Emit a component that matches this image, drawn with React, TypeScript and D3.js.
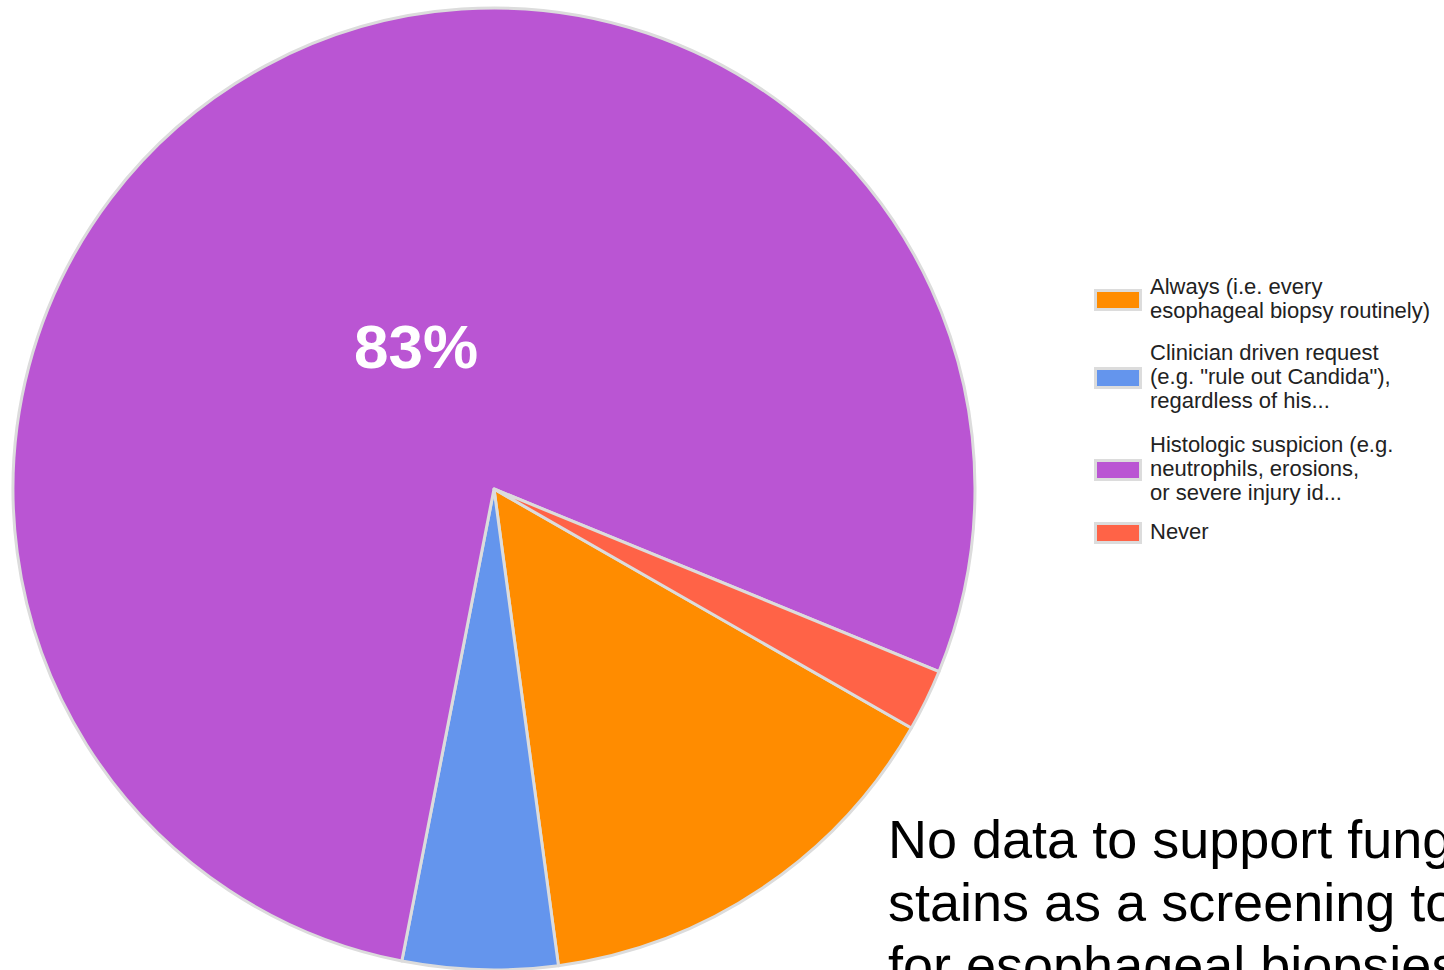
import React from "react";
import * as d3 from "d3";

const categories = [
  "Always (i.e. every esophageal biopsy routinely)",
  "Clinician driven request (e.g. \"rule out Candida\"), regardless of his...",
  "Histologic suspicion (e.g. neutrophils, erosions, or severe injury id...",
  "Never",
];
const legendLines = [
  ["Always (i.e. every", "esophageal biopsy routinely)"],
  ["Clinician driven request", "(e.g. \"rule out Candida\"),", "regardless of his..."],
  ["Histologic suspicion (e.g.", "neutrophils, erosions,", "or severe injury id..."],
  ["Never"],
];
const values = [14, 5, 75, 2];
const colors = ["#ff8c00", "#6495ed", "#ba55d3", "#ff6347"];
const bigLabel = "83%";
const noteLines = [
  "No data to support fungal",
  "stains as a screening tool",
  "for esophageal biopsies",
];

const W = 1444;
const H = 970;

export default function App() {
  const cx = 494;
  const cy = 489;
  const r = 481;
  const start = (119.8 * Math.PI) / 180;
  const pie = d3
    .pie<number>()
    .sort(null)
    .startAngle(start)
    .endAngle(start + 2 * Math.PI)
    .value((d) => d);
  const arcs = pie(values);
  const arc = d3.arc<d3.PieArcDatum<number>>().innerRadius(0).outerRadius(r);

  const lineH = 24;
  const legendX = 1094;
  const legendTextX = 1150;
  const groupTops = [295, 361, 453, 540];

  return (
    <svg
      width={W}
      height={H}
      style={{ position: "absolute", left: 0, top: 0, background: "#fff" }}
      fontFamily="Arial, 'Liberation Sans', sans-serif"
    >
      <g transform={`translate(${cx},${cy})`}>
        {arcs.map((a, i) => (
          <path
            key={categories[i]}
            d={arc(a) || ""}
            fill={colors[i]}
            stroke="#dcdcdc"
            strokeWidth={3}
            strokeLinejoin="round"
          />
        ))}
      </g>
      <text
        x={416}
        y={368}
        textAnchor="middle"
        fontSize={62}
        fontWeight="bold"
        fill="#fff"
      >
        {bigLabel}
      </text>
      <g>
        {legendLines.map((lines, i) => {
          const base = groupTops[i];
          const n = lines.length;
          const midY = base - 7 + ((n - 1) * lineH) / 2;
          return (
            <g key={categories[i]}>
              <rect
                x={legendX + 1.5}
                y={midY - 9.5}
                width={45}
                height={19}
                fill={colors[i]}
                stroke="#dcdcdc"
                strokeWidth={3}
              />
              {lines.map((t, j) => (
                <text
                  key={j}
                  x={legendTextX}
                  y={base + j * lineH - 1}
                  fontSize={22}
                  fill="#222"
                >
                  {t}
                </text>
              ))}
            </g>
          );
        })}
      </g>
      <g>
        {noteLines.map((t, j) => (
          <text key={j} x={888} y={858 + j * 63} fontSize={54} fill="#000">
            {t}
          </text>
        ))}
      </g>
    </svg>
  );
}
